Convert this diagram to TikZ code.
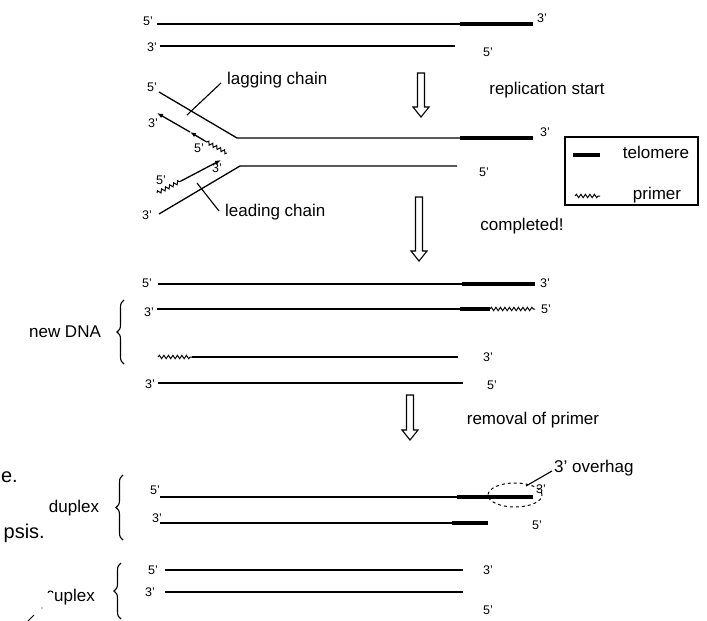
\documentclass[tikz,border=0pt]{standalone}
\usepackage{fontspec}
\setmainfont{Liberation Sans}
\usetikzlibrary{decorations.pathmorphing,decorations.pathreplacing,arrows.meta,shapes.geometric}

% hollow block arrow pointing down: x, top of shaft, tip
\newcommand\hollowdown[3]{%
  \draw[hollow] ({#1-3.5},#2) -- ({#1+3.5},#2) -- ({#1+3.5},{#3-10}) -- ({#1+8},{#3-10})
    -- (#1,#3) -- ({#1-8},{#3-10}) -- ({#1-3.5},{#3-10}) -- cycle;}

\begin{document}
\begin{tikzpicture}[x=1pt,y=-1pt,
  strand/.style={line width=1.3pt},
  telo/.style={line width=3.1pt},
  primer/.style={line width=1pt,decorate,
    decoration={snake,amplitude=1.7pt,segment length=4.5pt}},
  lbl/.style={font=\fontsize{17}{19}\selectfont,inner sep=0pt},
  prime/.style={font=\fontsize{12.5}{13}\selectfont,inner sep=0pt},
  frag/.style={font=\fontsize{20}{22}\selectfont,inner sep=0pt},
  hollow/.style={draw,line width=1.1pt,fill=white},
  brc/.style={decorate,decoration={brace,amplitude=7pt},line width=1.1pt},
  tip/.style={-{Latex[length=6pt,width=4.5pt]}}
]
\useasboundingbox (0,0) rectangle (707,621);
\clip (0,0) rectangle (707,621);

% ---------- parent duplex ----------
\coordinate (a1) at (157,24);  \coordinate (a1t) at (460,24); \coordinate (a2) at (533,24);
\draw[strand] (a1) -- (a2); \draw[telo] (a1t) -- (a2);
\node[prime] (a5) at (148,21) {5'};
\node[prime] (a3) at (542,18) {3'};
\coordinate (b1) at (160,46); \coordinate (b2) at (455,46);
\draw[strand] (b1) -- (b2);
\node[prime] (b3) at (152,47) {3'};
\node[prime] (b5) at (488,52) {5'};

\hollowdown{421}{73}{117}
\node[lbl] (repl) at (547,90) {replication start};

% ---------- replication fork ----------
\coordinate (f1) at (159,92); \coordinate (f2) at (237,138);
\coordinate (f2t) at (460,138); \coordinate (f3) at (533,138);
\draw[strand] (f1) -- (f2) -- (f3); \draw[telo] (f2t) -- (f3);
\node[prime] (f5) at (152,87) {5'};
\node[prime] (f3l) at (545,132) {3'};
\coordinate (g1) at (159,214); \coordinate (g2) at (240,166); \coordinate (g3) at (457,166);
\draw[strand] (g1) -- (g2) -- (g3);
\node[prime] (g3l) at (147,215) {3'};
\node[prime] (g5) at (484,172) {5'};

% lagging strand: primer, then two pieces pointing back to the fork end
\coordinate (lw) at (227,153); \coordinate (ls) at (205,141);
\coordinate (lm) at (190,132); \coordinate (lt) at (157,113);
\draw[primer] (lw) -- (ls);
\draw[strand,tip] (ls) -- (lm);
\draw[strand,tip] (lm) -- (lt);
\node[prime] (l3) at (153,123) {3'};
\node[prime] (l5) at (199,148) {5'};

% leading strand
\coordinate (dw) at (157,193); \coordinate (ds) at (181,181); \coordinate (dt) at (221,160);
\draw[primer] (dw) -- (ds);
\draw[strand,tip] (ds) -- (dt);
\node[prime] (d5) at (161,180) {5'};
\node[prime] (d3) at (217,168) {3'};

% leader lines
\node[lbl,anchor=west] (lag) at (227,80) {lagging chain};
\coordinate (lagp) at (187,115); \coordinate (lagq) at (221,83);
\draw[line width=1.1pt] (lagp) -- (lagq);
\node[lbl,anchor=west] (lead) at (225,212) {leading chain};
\coordinate (leadp) at (197,183); \coordinate (leadq) at (219,211);
\draw[line width=1.1pt] (leadp) -- (leadq);

% legend
\node[draw,line width=1.1pt,minimum width=133pt,minimum height=68pt,inner sep=0pt] (leg) at (631.5,171) {};
\coordinate (k1) at (573,155); \coordinate (k2) at (600,155);
\draw[telo] (k1) -- (k2);
\node[lbl] (ktel) at (656,152) {telomere};
\coordinate (k3) at (575,196); \coordinate (k4) at (600,196);
\draw[primer] (k3) -- (k4);
\node[lbl] (kpri) at (657,195) {primer};

\hollowdown{419}{197}{261}
\node[lbl] (done) at (522,226) {completed!};

% ---------- after replication ----------
\coordinate (c1) at (158,284); \coordinate (c1t) at (462,284); \coordinate (c2) at (535,284);
\draw[strand] (c1) -- (c2); \draw[telo] (c1t) -- (c2);
\node[prime] (c5) at (147,283) {5'};
\node[prime] (c3) at (545,283) {3'};

\coordinate (e1) at (157,309); \coordinate (e2) at (460,309);
\coordinate (e3) at (490,309); \coordinate (e4) at (535,309);
\draw[strand] (e1) -- (e2); \draw[telo] (e2) -- (e3); \draw[primer] (e3) -- (e4);
\node[prime] (e3l) at (149,312) {3'};
\node[prime] (e5) at (546,309) {5'};

\coordinate (h1) at (158,357); \coordinate (h2) at (192,357); \coordinate (h3) at (458,357);
\draw[primer] (h1) -- (h2); \draw[strand] (h2) -- (h3);
\node[prime] (h3l) at (488,357) {3'};

\coordinate (i1) at (158,383); \coordinate (i2) at (463,383);
\draw[strand] (i1) -- (i2);
\node[prime] (i3) at (150,384) {3'};
\node[prime] (i5) at (492,385) {5'};

\node[lbl] (newdna) at (65,332) {new DNA};
\coordinate (nb1) at (124,364); \coordinate (nb2) at (124,300);
\draw[brc] (nb1) -- (nb2);

\hollowdown{410}{395}{440}
\node[lbl] (rem) at (533,420) {removal of primer};

% ---------- duplexes after primer removal ----------
\coordinate (m1) at (160,497); \coordinate (m1t) at (457,497); \coordinate (m2) at (533,497);
\draw[strand] (m1) -- (m2); \draw[telo] (m1t) -- (m2);
\node[prime] (m5) at (155,490) {5'};
\node[prime] (m3) at (541,489) {3'};
\node[draw,dashed,line width=1pt,ellipse,minimum width=54pt,minimum height=24pt,inner sep=0pt] (ov) at (515,495) {};
\node[lbl,anchor=west] (ovl) at (554,468) {3' overhag};
\coordinate (ovp) at (526,486); \coordinate (ovq) at (552,471);
\draw[line width=1.1pt] (ovp) -- (ovq);

\coordinate (n1) at (160,523); \coordinate (n1t) at (452,523); \coordinate (n2) at (488,523);
\draw[strand] (n1) -- (n2); \draw[telo] (n1t) -- (n2);
\node[prime] (n3) at (157,518) {3'};
\node[prime] (n5) at (537,525) {5'};

\node[lbl] (dup1) at (74,508) {duplex};
\coordinate (db1) at (123,540); \coordinate (db2) at (123,475);
\draw[brc] (db1) -- (db2);

\coordinate (p1) at (165,570); \coordinate (p2) at (463,570);
\draw[strand] (p1) -- (p2);
\node[prime] (p5) at (153,570) {5'};
\node[prime] (p3) at (488,570) {3'};
\coordinate (q1) at (165,592); \coordinate (q2) at (463,592);
\draw[strand] (q1) -- (q2);
\node[prime] (q3) at (150,592) {3'};
\node[prime] (q5) at (488,610) {5'};

\node[lbl,anchor=west] (dup2) at (54,597) {uplex};
\draw[line width=1pt] (48,593) arc (180:360:2.5 and 2);
\coordinate (eb1) at (121,619); \coordinate (eb2) at (121,563);
\draw[brc] (eb1) -- (eb2);

% text running in from the left edge
\node[frag,anchor=east] (fe) at (18,477) {e.};
\node[frag,anchor=east] (fp) at (45,533) {psis.};
\draw[line width=0.8pt] (28,621) -- (34,615);
\fill (42,608) circle (0.7);
\end{tikzpicture}
\end{document}
